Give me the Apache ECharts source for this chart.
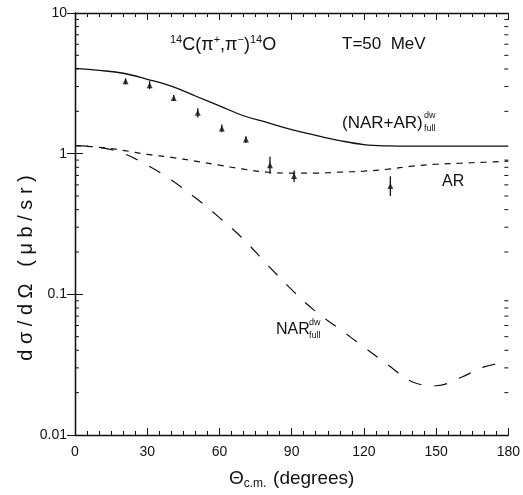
<!DOCTYPE html>
<html>
<head>
<meta charset="utf-8">
<script src="https://cdn.jsdelivr.net/npm/echarts@6/dist/echarts.min.js"></script>
<style>
html, body { margin: 0; padding: 0; background: #fff; }
#chart { width: 523px; height: 495px; }
</style>
</head>
<body>
<div id="chart"></div>
<script>
// angles (degrees) where the curves were read
const angles = [0, 10, 20, 30, 40, 50, 60, 70, 80, 90, 100, 110, 120, 130, 140, 150, 160, 170, 180];
// (NAR+AR) full dw - solid
const totalFull = [4.04, 3.91, 3.73, 3.38, 3.02, 2.57, 2.19, 1.86, 1.66, 1.48, 1.35, 1.24, 1.16, 1.135, 1.13, 1.13, 1.13, 1.13, 1.13];
// AR - short dashes
const arOnly = [1.14, 1.11, 1.055, 0.989, 0.942, 0.884, 0.828, 0.776, 0.739, 0.728, 0.728, 0.739, 0.751, 0.776, 0.815, 0.841, 0.855, 0.869, 0.884];
// NAR full dw - long dashes
const narFull = [1.14, 1.11, 1.005, 0.828, 0.650, 0.486, 0.351, 0.246, 0.1616, 0.1079, 0.0755, 0.0565, 0.0422, 0.0315, 0.0239, 0.0224, 0.0255, 0.0305, 0.0331];

// measured points with error bars
const expAngle = [21, 31, 41, 51, 61, 71, 81, 91, 131];
const expValue = [3.27, 3.07, 2.49, 1.95, 1.51, 1.26, 0.828, 0.693, 0.589];
const expLow   = [3.11, 2.88, 2.37, 1.81, 1.42, 1.19, 0.72, 0.63, 0.50];
const expHigh  = [3.43, 3.28, 2.61, 2.10, 1.61, 1.33, 0.95, 0.76, 0.69];

const yMinorTicks = [0.02, 0.03, 0.04, 0.05, 0.06, 0.07, 0.08, 0.09,
                     0.2, 0.3, 0.4, 0.5, 0.6, 0.7, 0.8, 0.9,
                     2, 3, 4, 5, 6, 7, 8, 9];

const FONT = 'Liberation Sans';
const INK = '#111';

const chart = echarts.init(document.getElementById('chart'));

const xCommon = {
    type: 'value', min: 0, max: 180, interval: 30,
    axisLine: { onZero: false, lineStyle: { color: INK, width: 1.3 } },
    axisTick: { inside: true, length: 7, lineStyle: { color: INK } },
    minorTick: { show: true, splitNumber: 6, length: 4, lineStyle: { color: INK } },
    splitLine: { show: false }
};
const yCommon = {
    type: 'log', logBase: 10, min: 0.01, max: 10,
    axisLine: { show: true, lineStyle: { color: INK, width: 1.3 } },
    axisTick: { inside: true, length: 8, lineStyle: { color: INK } },
    splitLine: { show: false }
};

const option = {
    animation: false,
    backgroundColor: '#fff',
    grid: { left: 75, right: 13, top: 13, bottom: 53 },
    xAxis: [
        Object.assign({}, xCommon, {
            position: 'bottom',
            axisLabel: { color: INK, fontFamily: FONT, fontSize: 14, margin: 10 },
            name: '{a|Θ}{s|c.m.}  {a|(degrees)}',
            nameLocation: 'middle',
            nameGap: 33,
            nameTextStyle: {
                rich: {
                    a: { fontFamily: FONT, fontSize: 19, color: INK, lineHeight: 22 },
                    s: { fontFamily: FONT, fontSize: 12, color: INK, verticalAlign: 'bottom', lineHeight: 14 }
                }
            }
        }),
        Object.assign({}, xCommon, { position: 'top', axisLabel: { show: false } })
    ],
    yAxis: [
        Object.assign({}, yCommon, {
            position: 'left',
            axisLabel: {
                color: INK, fontFamily: FONT, fontSize: 14, margin: 8,
                formatter: function (v) { return String(+v.toPrecision(3)); }
            }
        }),
        Object.assign({}, yCommon, { position: 'right', axisLabel: { show: false } })
    ],
    series: [
        {
            name: '(NAR+AR)', type: 'line', smooth: 0.4, symbol: 'none',
            data: angles.map((a, i) => [a, totalFull[i]]),
            lineStyle: { color: INK, width: 1.3 }
        },
        {
            name: 'AR', type: 'line', smooth: 0.4, symbol: 'none',
            data: angles.map((a, i) => [a, arOnly[i]]),
            lineStyle: { color: INK, width: 1.2, type: [6, 6] }
        },
        {
            name: 'NAR', type: 'line', smooth: 0.4, symbol: 'none',
            data: angles.map((a, i) => [a, narFull[i]]),
            lineStyle: { color: INK, width: 1.2, type: [13, 13] }
        },
        {
            name: 'errors', type: 'custom',
            data: expAngle.map((a, i) => [a, expLow[i], expHigh[i]]),
            renderItem: function (params, api) {
                const lo = api.coord([api.value(0), api.value(1)]);
                const hi = api.coord([api.value(0), api.value(2)]);
                return {
                    type: 'line',
                    shape: { x1: lo[0], y1: lo[1], x2: hi[0], y2: hi[1] },
                    style: { stroke: INK, lineWidth: 1.3 }
                };
            },
            z: 3
        },
        {
            name: 'data', type: 'scatter', symbol: 'triangle', symbolSize: 6,
            data: expAngle.map((a, i) => [a, expValue[i]]),
            itemStyle: { color: INK },
            z: 4
        },
        {
            name: 'yMinor', type: 'custom', silent: true,
            data: yMinorTicks.map(v => [0, v]),
            renderItem: function (params, api) {
                const l = api.coord([0, api.value(1)]);
                const r = api.coord([180, api.value(1)]);
                return {
                    type: 'group',
                    children: [
                        { type: 'line', shape: { x1: l[0], y1: l[1], x2: l[0] + 4, y2: l[1] }, style: { stroke: INK, lineWidth: 1 } },
                        { type: 'line', shape: { x1: r[0] - 4, y1: r[1], x2: r[0], y2: r[1] }, style: { stroke: INK, lineWidth: 1 } }
                    ]
                };
            }
        }
    ],
    graphic: [
        {
            // y axis title
            type: 'text', x: 26, y: 268, rotation: Math.PI / 2,
            style: {
                text: 'd σ / d Ω   ( μ b / s r )',
                fontFamily: FONT, fontSize: 20, fill: INK,
                align: 'center', verticalAlign: 'middle'
            }
        },
        {
            type: 'text', left: 170, top: 34,
            style: {
                text: '{p|14}{m|C(π}{p|+}{m|,π}{p|−}{m|)}{p|14}{m|O}',
                rich: {
                    m: { fontFamily: FONT, fontSize: 18, fill: INK, lineHeight: 22 },
                    p: { fontFamily: FONT, fontSize: 11, fill: INK, lineHeight: 11, verticalAlign: 'top' }
                }
            }
        },
        {
            type: 'text', left: 342, top: 36,
            style: { text: 'T=50  MeV', fontFamily: FONT, fontSize: 17, fill: INK }
        },
        {
            type: 'text', left: 342, top: 115,
            style: { text: '(NAR+AR)', fontFamily: FONT, fontSize: 17, fill: INK }
        },
        { type: 'text', left: 424, top: 111, style: { text: 'dw', fontFamily: FONT, fontSize: 9, fill: INK } },
        { type: 'text', left: 424, top: 124, style: { text: 'full', fontFamily: FONT, fontSize: 9, fill: INK } },
        {
            type: 'text', left: 442, top: 174,
            style: { text: 'AR', fontFamily: FONT, fontSize: 16, fill: INK }
        },
        {
            type: 'text', left: 276, top: 322,
            style: { text: 'NAR', fontFamily: FONT, fontSize: 16, fill: INK }
        },
        { type: 'text', left: 309, top: 318, style: { text: 'dw', fontFamily: FONT, fontSize: 9, fill: INK } },
        { type: 'text', left: 309, top: 331, style: { text: 'full', fontFamily: FONT, fontSize: 9, fill: INK } }
    ]
};

chart.setOption(option);
</script>
</body>
</html>
